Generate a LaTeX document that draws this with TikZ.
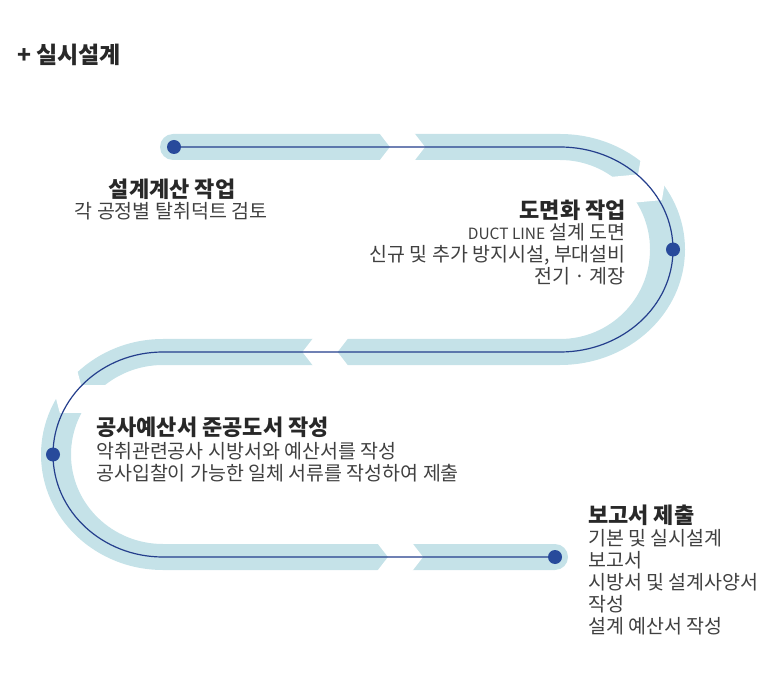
\documentclass[tikz,border=0pt]{standalone}
\usepackage{fontspec}
\setmainfont{Noto Sans CJK KR}
\usepackage{tikz}

\definecolor{nastro}{RGB}{197,226,232}
\definecolor{linea}{RGB}{36,62,140}
\definecolor{punto}{RGB}{40,74,155}
\definecolor{testo}{RGB}{64,64,64}
\definecolor{scuro}{RGB}{40,40,40}

\tikzset{
  testa/.style={font=\bfseries\fontsize{22}{24}\selectfont, text=scuro, inner sep=0pt},
  corpo/.style={font=\fontsize{19.5}{22}\selectfont, text=testo, inner sep=0pt},
  punto/.style={circle, fill=punto, minimum size=14pt, inner sep=0pt}
}
% taglio a freccia nel nastro: centro, angolo
\newcommand{\taglio}[2]{\fill[white, shift={#1}, rotate=#2] (-35.6,-30) -- (-12.5,0) -- (-35.6,30) -- (-0.6,30) -- (22.5,0) -- (-0.6,-30) -- cycle;}

\begin{document}
\begin{tikzpicture}[x=1pt,y=-1pt]
	\useasboundingbox (0,0) rectangle (784,692);
	%Titolo
	\node [font=\bfseries\fontsize{23}{24}\selectfont, text=scuro, inner sep=0pt, anchor=west] (tit) at (17,55) {+ 실시설계};
	%Nastro
	\fill[nastro] (173,134) -- (560,134)
		arc[start angle=-90, end angle=90, x radius=125, y radius=115.5]
		-- (163,365)
		arc[start angle=-90, end angle=-270, x radius=92, y radius=89.5]
		-- (555,544)
		arc[start angle=-90, end angle=90, radius=13]
		-- (163,570)
		arc[start angle=90, end angle=270, x radius=122, y radius=115.5]
		-- (560,339)
		arc[start angle=90, end angle=-90, x radius=90, y radius=89.5]
		-- (173,160)
		arc[start angle=90, end angle=270, radius=13]
		-- cycle;
	%Tagli
	\taglio{(402.5,147)}{0}
	\taglio{(646.6,183.6)}{-47.2}
	\taglio{(325,352)}{180}
	\taglio{(73.5,395)}{-127.5}
	\taglio{(400.5,557)}{0}
	%Linea
	\coordinate (p1) at (174,147);
	\coordinate (p2) at (673,249.5);
	\coordinate (p4) at (53,454.5);
	\coordinate (p5) at (555,557);
	\draw[linea, line width=1.2pt] (p1) -- (560,147)
		arc[start angle=-90, end angle=90, x radius=113, y radius=102.5]
		-- (163,352)
		arc[start angle=-90, end angle=-270, x radius=110, y radius=102.5]
		-- (p5);
	%Punti
	\node[punto] (d1) at (p1) {};
	\node[punto] (d2) at (p2) {};
	\node[punto] (d4) at (p4) {};
	\node[punto] (d5) at (p5) {};
	%Testi
	\node[testa] (h1) at (172,189) {설계계산 작업};
	\node[corpo] (c1) at (171,211) {각 공정별 탈취덕트 검토};
	\node[testa, anchor=east] (h2) at (626,210) {도면화 작업};
	\node[corpo, anchor=east, align=right] (c2) at (626,254.5) {{\fontsize{15.5}{22}\selectfont DUCT LINE} 설계 도면\\신규 및 추가 방지시설, 부대설비\\전기 · 계장};
	\node[testa, anchor=west] (h3) at (96,427) {공사예산서 준공도서 작성};
	\node[corpo, anchor=west, align=left] (c3) at (96,462) {악취관련공사 시방서와 예산서를 작성\\공사입찰이 가능한 일체 서류를 작성하여 제출};
	\node[testa, anchor=west] (h4) at (588,515) {보고서 제출};
	\node[corpo, anchor=west, align=left] (c4) at (588,582.5) {기본 및 실시설계\\보고서\\시방서 및 설계사양서\\작성\\설계 예산서 작성};
\end{tikzpicture}
\end{document}
